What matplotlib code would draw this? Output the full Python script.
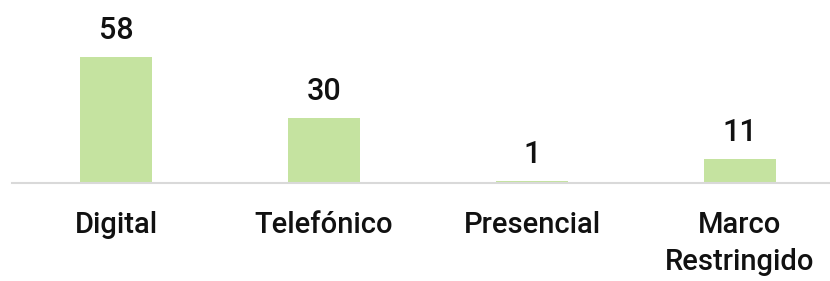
import matplotlib
matplotlib.use("Agg")
import matplotlib.pyplot as plt

categories = ["Digital", "Telefónico", "Presencial", "Marco\nRestringido"]
values = [58, 30, 1, 11]

BAR = "#c5e3a0"
TXT = "#111111"

plt.rcParams["font.family"] = ["Roboto", "DejaVu Sans"]

fig = plt.figure(figsize=(8.30, 2.81), dpi=100)
# baseline at y=183px, 58-bar top at y=57px, first bar centre at x=116px
ax = fig.add_axes([12 / 830, 98 / 281, 818 / 830, 126 / 281])
x = list(range(len(categories)))
ax.bar(x, values, width=0.346, color=BAR, zorder=2)
ax.set_xlim(-0.5, -0.5 + 818 / 208)
ax.set_ylim(0, 58)

for xi, v in zip(x, values):
    ax.annotate(str(v), (xi, v), xytext=(0, 13), textcoords="offset points",
                ha="center", va="baseline", fontsize=22, fontweight="medium",
                color=TXT, clip_on=False)

ax.set_xticks(x)
ax.set_xticklabels(categories, fontsize=21, fontweight="medium", color=TXT,
                   linespacing=1.4, va="top")
ax.tick_params(axis="x", length=0, pad=20)
ax.set_yticks([])
for s in ["top", "right", "left"]:
    ax.spines[s].set_visible(False)
ax.spines["bottom"].set_color("#d9d9d9")
ax.spines["bottom"].set_linewidth(1.5)
ax.patch.set_visible(False)

fig.savefig("out.png", dpi=100)
